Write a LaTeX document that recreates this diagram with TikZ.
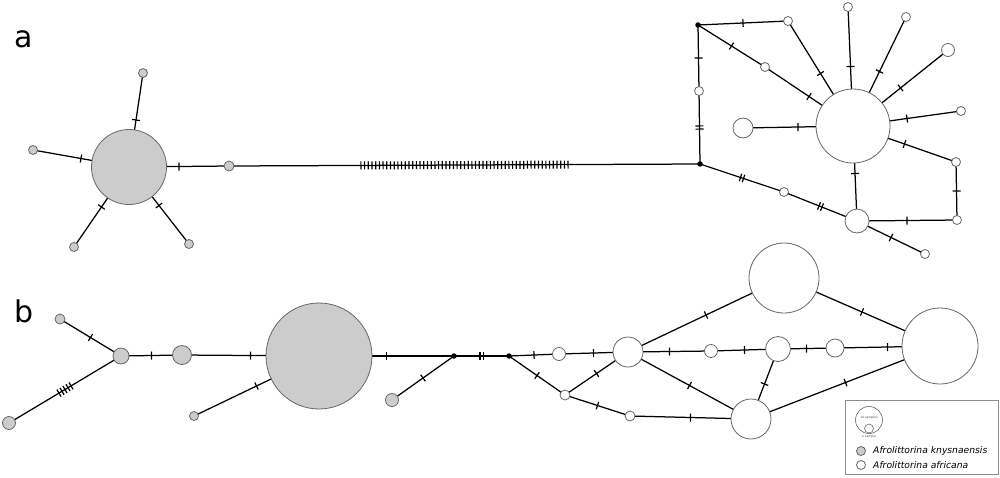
\documentclass[tikz,border=0pt]{standalone}
\usepackage{fontspec}
\setmainfont{DejaVu Sans}
\usetikzlibrary{decorations.markings,backgrounds}
\begin{document}
\begin{tikzpicture}[x=1pt,y=-1pt,
  hap/.style={circle,draw=black!60,line width=0.8pt,inner sep=0pt,minimum size=#1},
  kn/.style={hap=#1,fill=black!20},
  af/.style={hap=#1,fill=white},
  mv/.style={circle,fill=black,inner sep=0pt,minimum size=5.5pt},
  edge/.style={line width=1.25pt},
  tickline/.style={line width=1.2pt},
  m1/.style={postaction={decorate,decoration={markings,mark=at position 0.5 with {\draw[tickline] (0pt,-4pt)--(0pt,4pt);}}}},
  m2/.style={postaction={decorate,decoration={markings,mark=at position 0.5 with {\draw[tickline] (-1.6pt,-4pt)--(-1.6pt,4pt) (1.6pt,-4pt)--(1.6pt,4pt);}}}},
  m5/.style={postaction={decorate,decoration={markings,mark=at position 0.5 with {\foreach \o in {-7,-3.5,0,3.5,7} {\draw[tickline] (\o pt,-4pt)--(\o pt,4pt);}}}}},
  mlong/.style={postaction={decorate,decoration={markings,mark=between positions 131.9pt and 339.5pt step 3.7pt with {\draw[tickline] (0pt,-4pt)--(0pt,4pt);}}}},
  panel/.style={font=\fontsize{30}{30}\selectfont},
  legtxt/.style={anchor=west,font=\fontsize{9.2}{10}\selectfont\itshape,inner sep=0pt},
  tinytxt/.style={font=\fontsize{3}{3}\selectfont,text=black!70,inner sep=0pt}
]
\useasboundingbox (0,0) rectangle (1000,477);

% panel labels
\node[panel] (la) at (24,39) {a};
\node[panel] (lb) at (24,311) {b};

% ---------- panel a ----------
\node[kn=75pt] (a0) at (129,167) {};
\node[kn=9pt]  (a1) at (143,73) {};
\node[kn=9pt]  (a2) at (33,150) {};
\node[kn=9pt]  (a3) at (74,247) {};
\node[kn=9pt]  (a4) at (189,244) {};
\node[kn=10pt] (a5) at (229,166) {};
\node[mv] (d1) at (698,25) {};
\node[mv] (d2) at (700,164) {};
\node[af=74pt] (b0) at (853,126) {};
\node[af=9pt]  (b1) at (788,21) {};
\node[af=9pt]  (b2) at (848,7) {};
\node[af=9pt]  (b3) at (906,17) {};
\node[af=13pt] (b4) at (948,50) {};
\node[af=9pt]  (b5) at (961,111) {};
\node[af=9pt]  (b6) at (956,162) {};
\node[af=9pt]  (b7) at (957,220) {};
\node[af=9pt]  (b8) at (925,254) {};
\node[af=24pt] (b9) at (857,221) {};
\node[af=9pt]  (b10) at (784,192) {};
\node[af=20pt] (b11) at (743,128) {};
\node[af=9pt]  (b12) at (765,67) {};
\node[af=9pt]  (b13) at (699,91) {};

% ---------- panel b ----------
\node[kn=10pt]  (c1) at (60,319) {};
\node[kn=16pt]  (c2) at (121,356) {};
\node[kn=13pt]  (c3) at (9,423) {};
\node[kn=19pt]  (c4) at (182,355) {};
\node[kn=106pt] (c5) at (319,356) {};
\node[kn=9pt]   (c6) at (194,416) {};
\node[kn=13pt]  (c7) at (392,400) {};
\node[mv] (e1) at (454,356) {};
\node[mv] (e2) at (509,356) {};
\node[af=13pt] (f1) at (559,354) {};
\node[af=30pt] (f2) at (628,352) {};
\node[af=10pt] (f3) at (565,395) {};
\node[af=10pt] (f4) at (630,416) {};
\node[af=70pt] (f5) at (784,278) {};
\node[af=76pt] (f6) at (940,346) {};
\node[af=13pt] (f7) at (711,351) {};
\node[af=25pt] (f8) at (778,349) {};
\node[af=18pt] (f9) at (835,348) {};
\node[af=40pt] (f10) at (751,419) {};

\begin{pgfonlayer}{background}
  % panel a edges
  \draw[edge,m1] (a0.center) -- (a1.center);
  \draw[edge,m1] (a0.center) -- (a2.center);
  \draw[edge,m1] (a0.center) -- (a3.center);
  \draw[edge,m1] (a0.center) -- (a4.center);
  \draw[edge,m1] (a0.center) -- (a5.center);
  \draw[edge,mlong] (a5.center) -- (d2.center);
  \draw[edge,m1] (d1.center) -- (b1.center);
  \draw[edge,m1] (d1.center) -- (b12.center);
  \draw[edge,m1] (b12.center) -- (b0.center);
  \draw[edge,m1] (b1.center) -- (b0.center);
  \draw[edge,m1] (b2.center) -- (b0.center);
  \draw[edge,m1] (b3.center) -- (b0.center);
  \draw[edge,m1] (b4.center) -- (b0.center);
  \draw[edge,m1] (b5.center) -- (b0.center);
  \draw[edge,m1] (b6.center) -- (b0.center);
  \draw[edge,m1] (b6.center) -- (b7.center);
  \draw[edge,m1] (b7.center) -- (b9.center);
  \draw[edge,m1] (b9.center) -- (b8.center);
  \draw[edge,m1] (b0.center) -- (b9.center);
  \draw[edge,m1] (b11.center) -- (b0.center);
  \draw[edge,m1] (d1.center) -- (b13.center);
  \draw[edge,m2] (b13.center) -- (d2.center);
  \draw[edge,m2] (d2.center) -- (b10.center);
  \draw[edge,m2] (b10.center) -- (b9.center);
  % panel b edges
  \draw[edge,m1] (c1.center) -- (c2.center);
  \draw[edge,m5] (c3.center) -- (c2.center);
  \draw[edge,m1] (c2.center) -- (c4.center);
  \draw[edge,m1] (c4.center) -- (c5.center);
  \draw[edge,m1] (c6.center) -- (c5.center);
  \draw[edge,m1] (c5.center) -- (e1.center);
  \draw[edge,m1] (c7.center) -- (e1.center);
  \draw[edge,m2] (e1.center) -- (e2.center);
  \draw[edge,m1] (e2.center) -- (f1.center);
  \draw[edge,m1] (f1.center) -- (f2.center);
  \draw[edge,m1] (e2.center) -- (f3.center);
  \draw[edge,m1] (f3.center) -- (f2.center);
  \draw[edge,m1] (f3.center) -- (f4.center);
  \draw[edge,m1] (f2.center) -- (f5.center);
  \draw[edge,m1] (f5.center) -- (f6.center);
  \draw[edge,m1] (f2.center) -- (f7.center);
  \draw[edge,m1] (f7.center) -- (f8.center);
  \draw[edge,m1] (f8.center) -- (f9.center);
  \draw[edge,m1] (f9.center) -- (f6.center);
  \draw[edge,m1] (f2.center) -- (f10.center);
  \draw[edge,m1] (f8.center) -- (f10.center);
  \draw[edge,m1] (f10.center) -- (f6.center);
  \draw[edge,m1] (f4.center) -- (f10.center);
\end{pgfonlayer}

% ---------- legend ----------
\draw[draw=black!45,line width=1pt,fill=white] (845,400) rectangle (998,474);
\node[af=27pt,line width=0.6pt] (l10) at (869,420) {};
\node[af=9pt,line width=0.6pt] (l1) at (869,428.5) {};
\node[tinytxt] (t10) at (869,418) {10 samples};
\node[tinytxt] (t1) at (869,437) {1 sample};
\node[kn=9pt] (lk) at (861,451) {};
\node[af=9pt] (lf) at (861,465) {};
\node[legtxt] (tk) at (873,451) {Afrolittorina knysnaensis};
\node[legtxt] (tf) at (873,465) {Afrolittorina africana};
\end{tikzpicture}
\end{document}
